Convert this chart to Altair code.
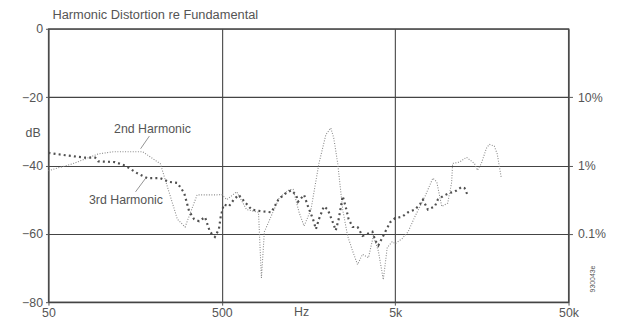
import altair as alt
import pandas as pd

# 2nd harmonic (Hz, dB)
h2_hz = [50, 69, 97, 118, 175, 221, 277, 307, 360, 395, 468, 500, 534, 609, 695, 814, 846, 880,
         991, 1073, 1223, 1289, 1395, 1491, 1634, 1816, 1991, 2126, 2212, 2331, 2490, 2659, 2840,
         3033, 3238, 3505, 3743, 3998, 4270, 4500, 4806, 5000, 5482, 5934, 6505, 7422, 8245, 8690,
         9281, 10045, 10583, 10724, 11758, 12894, 14327, 14904, 15708, 16781, 17452, 18638, 19389, 20437]
h2_db = [-41.5, -39.5, -36.6, -36, -36, -39.5, -55.7, -58, -48.6, -48.6, -48.6, -48.5, -50, -47.7,
         -52.9, -53.7, -72.9, -59.4, -53.4, -49.4, -47.1, -47, -53.7, -57.7, -52.9, -39.4, -31, -29,
         -32, -39.4, -52.9, -60.6, -65, -69, -66, -67, -60.6, -65, -73.4, -64, -62.3, -62.9, -61.4,
         -59.4, -54.9, -49.1, -43.7, -44.8, -52, -51, -45, -39.4, -39, -37.6, -39.4, -41.4, -39.4,
         -35, -33.8, -34.3, -36.6, -43.4]

# 3rd harmonic (Hz, dB)
h3_hz = [50, 62.5, 81, 93, 97, 121, 138, 163, 186, 221, 249, 277, 303, 324, 346, 370, 400, 427,
         456, 481, 493, 513, 548, 586, 625, 677, 742, 846, 965, 1059, 1176, 1256, 1341, 1377, 1491,
         1571, 1678, 1745, 1816, 1939, 2043, 2183, 2270, 2362, 2490, 2590, 2694, 2840, 3033, 3238,
         3459, 3695, 3843, 3998, 4385, 4681, 5000, 5482, 5934, 6505, 6947, 7227, 7720, 8464, 8803,
         9403, 10309, 11011, 12073, 12559, 13065]
h3_db = [-36.3, -37, -37.7, -37.7, -38.8, -39, -40, -42.3, -43.7, -43.7, -44.8, -45.1, -48, -53.4,
         -55.7, -56.3, -55.1, -59.4, -60.9, -58.6, -54.9, -51.4, -52, -50, -48.6, -50.6, -52.9,
         -53.4, -53.7, -50, -48, -47.3, -48.6, -50.6, -48.6, -52, -55.7, -58.6, -55.7, -52, -52.9,
         -56.6, -59, -55.7, -49, -52, -55.7, -58, -58, -60.6, -60, -59.4, -62, -63.4, -59.4, -56.6,
         -55.4, -55, -53.7, -52.9, -51.4, -50, -52.9, -52, -50, -49, -48, -47.7, -46.3, -46.6, -48.6]

x_ticks = [50, 500, 5000, 50000]
y_ticks = [-80, -60, -40, -20, 0]
pct_ticks = [-20, -40, -60]
pct_labels = ["10%", "1%", "0.1%"]

# annotations
ann_text = ["2nd Harmonic", "3rd Harmonic"]
ann_hz = [199, 140]
ann_db = [-29.4, -50]
lead_hz = [191, 159]
lead_hz2 = [170, 182]
lead_db = [-31.4, -47.7]
lead_db2 = [-35.1, -43.7]

FONT = "Liberation Sans"
GREY = "#555555"
FS = 12.5

df2 = pd.DataFrame({"f": h2_hz, "db": h2_db})
df3 = pd.DataFrame({"f": h3_hz, "db": h3_db})
dfa = pd.DataFrame({"t": ann_text, "f": ann_hz, "db": ann_db})
dfl = pd.DataFrame({"f": lead_hz, "f2": lead_hz2, "db": lead_db, "db2": lead_db2})

xs = alt.Scale(type="log", domain=[50, 50000], nice=False)
ys = alt.Scale(domain=[-80, 0], nice=False)

pct_expr = " : ".join(
    f"datum.value == {v} ? '{l}'" for v, l in zip(pct_ticks, pct_labels)
) + " : ''"

x_axis = alt.Axis(values=x_ticks, grid=True, gridColor="#444", gridWidth=1.1,
                  labelExpr="datum.value >= 1000 ? (datum.value/1000) + 'k' : datum.value",
                  title="Hz", titleX=256, titleY=10, titleBaseline="middle",
                  titleFontWeight="normal", titleFontSize=FS, titleColor=GREY, titleFont=FONT,
                  labelFont=FONT, labelFontSize=FS, labelColor=GREY, labelPadding=2,
                  tickSize=3, tickColor="#555", domain=False, labelFlush=False)

y_axis = alt.Axis(values=y_ticks, grid=True, gridColor="#444", gridWidth=1.1,
                  title="dB", titleAngle=0, titleX=-16, titleY=105, titleAlign="center",
                  titleBaseline="middle", titleFontWeight="normal", titleFontSize=FS,
                  titleColor=GREY, titleFont=FONT,
                  labelFont=FONT, labelFontSize=FS, labelColor=GREY, labelPadding=3,
                  tickSize=3, tickColor="#555", domain=False)

y_axis_r = alt.Axis(values=pct_ticks, orient="right", grid=False, labelExpr=pct_expr,
                    title="930043e", titleAngle=270, titleX=24, titleY=253,
                    titleAlign="center", titleBaseline="middle", titleFontWeight="normal",
                    titleFontSize=7, titleColor=GREY, titleFont=FONT,
                    labelFont=FONT, labelFontSize=FS, labelColor=GREY, labelPadding=5,
                    tickSize=4, tickColor="#555", domain=False)

l2 = alt.Chart(df2).mark_line(color="#8a8a8a", strokeWidth=1.1, strokeDash=[1, 1.6]).encode(
    x=alt.X("f:Q", scale=xs, axis=x_axis),
    y=alt.Y("db:Q", scale=ys, axis=y_axis),
)

l3 = alt.Chart(df3).mark_line(color="#505050", strokeWidth=2.2, strokeDash=[2, 3.2]).encode(
    x=alt.X("f:Q", scale=xs, axis=x_axis),
    y=alt.Y("db:Q", scale=ys, axis=y_axis_r),
)

leads = alt.Chart(dfl).mark_rule(color="#777", strokeWidth=0.8).encode(
    x=alt.X("f:Q", scale=xs, axis=x_axis), x2="f2:Q",
    y=alt.Y("db:Q", scale=ys, axis=None), y2="db2:Q",
)

texts = alt.Chart(dfa).mark_text(font=FONT, fontSize=FS, color=GREY, align="center",
                                 baseline="middle").encode(
    x=alt.X("f:Q", scale=xs, axis=x_axis),
    y=alt.Y("db:Q", scale=ys, axis=None),
    text="t:N",
)

chart = alt.layer(l2, l3, leads, texts).resolve_axis(y="independent").properties(
    width=527, height=277,
    autosize="none",
    padding={"left": 41, "top": 19, "right": 41, "bottom": 18},
    title=alt.TitleParams("Harmonic Distortion re Fundamental", anchor="start", dx=4,
                          offset=1, frame="group", font=FONT, fontSize=13,
                          fontWeight="normal", color=GREY),
).configure_view(stroke="#555", strokeWidth=1.4)

chart.save("out.html", embed_options={"renderer": "svg", "actions": False})
